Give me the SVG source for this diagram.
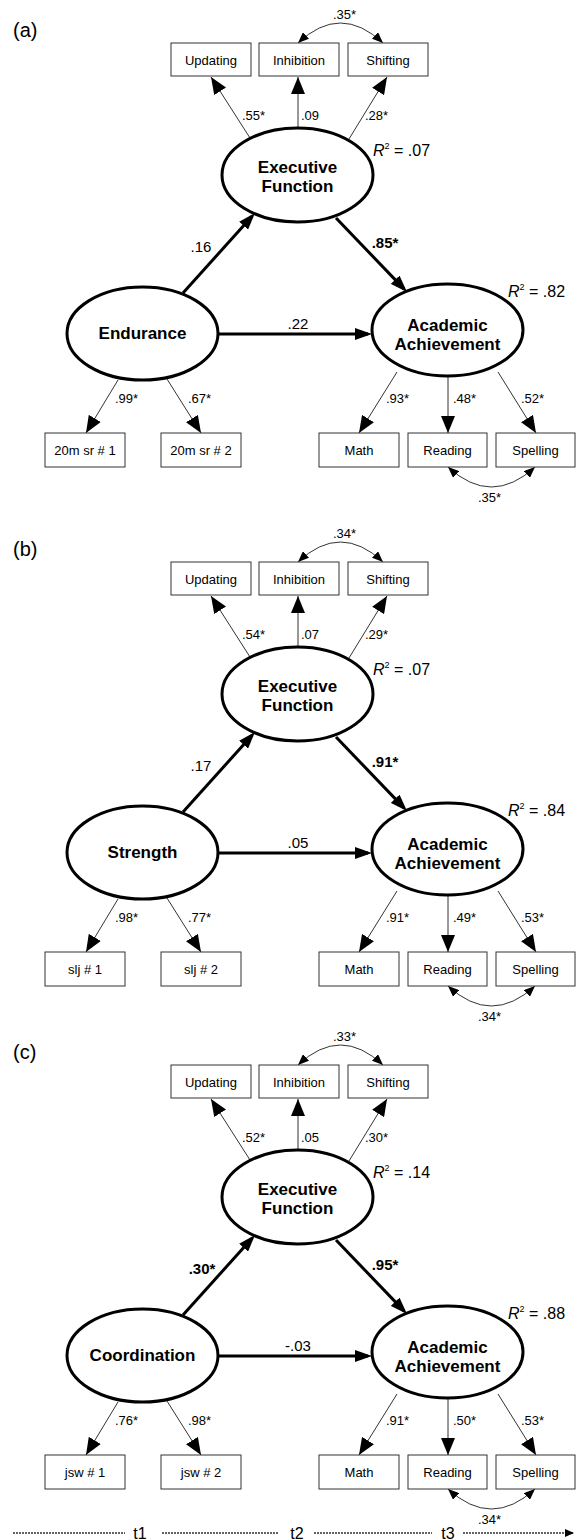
<svg xmlns="http://www.w3.org/2000/svg" width="576" height="1540" viewBox="0 0 576 1540">
<defs>
<style>
text{font-family:"Liberation Sans",Arial,sans-serif;fill:#000}
.box{fill:#fff;stroke:#333;stroke-width:1}
.lat{fill:#fff;stroke:#000;stroke-width:3}
.thick{stroke:#000;stroke-width:3;fill:none}
.thin{stroke:#333;stroke-width:1;fill:none}
.cov{stroke:#333;stroke-width:1;fill:none}
.bt{font-size:13px;text-anchor:middle}
.lt{font-size:17px;font-weight:bold;text-anchor:middle}
.ml{font-size:13px}
.sl{font-size:15px;text-anchor:middle}
.slb{font-size:15px;font-weight:bold;text-anchor:middle}
.r2{font-size:16px}
.pl{font-size:20px}
.tl{stroke:#333;stroke-width:1.4;stroke-dasharray:2 1;fill:none}
.tt{font-size:16px;text-anchor:middle}
</style>
<marker id="ah" markerUnits="userSpaceOnUse" viewBox="0 0 17 14" markerWidth="17" markerHeight="14" refX="17" refY="7" orient="auto"><path d="M0,0L17,7L0,14z" fill="#000"/></marker>
<marker id="aht" markerUnits="userSpaceOnUse" viewBox="0 0 17 12" markerWidth="17" markerHeight="12" refX="13" refY="6" orient="auto"><path d="M0,0L17,6L0,12z" fill="#000"/></marker>
<marker id="ahc" markerUnits="userSpaceOnUse" viewBox="0 0 11 9" markerWidth="11" markerHeight="9" refX="11" refY="4.5" orient="auto-start-reverse"><path d="M0,0L11,4.5L0,9z" fill="#000"/></marker>
<marker id="ahl" markerUnits="userSpaceOnUse" viewBox="0 0 9 8" markerWidth="9" markerHeight="8" refX="9" refY="4" orient="auto"><path d="M0,0L9,4L0,8z" fill="#000"/></marker>
</defs>
<rect width="576" height="1540" fill="#fff"/>

<!-- Panel (a) -->
<g id="panel-a">
<text class="pl" x="13" y="37">(a)</text>
<g id="a-connectors">
<path class="cov" d="M298,43 Q340.5,3 383,43" marker-start="url(#ahc)" marker-end="url(#ahc)"/>
<line class="thin" x1="250" y1="138" x2="211" y2="77" marker-end="url(#ah)"/>
<line class="thin" x1="298" y1="128" x2="298" y2="77" marker-end="url(#ah)"/>
<line class="thin" x1="349" y1="139" x2="387" y2="77" marker-end="url(#ah)"/>
<line class="thick" x1="183" y1="293" x2="252.3" y2="216" marker-end="url(#aht)"/>
<line class="thick" x1="336" y1="218" x2="404.2" y2="289.1" marker-end="url(#aht)"/>
<line class="thick" x1="218" y1="334" x2="368" y2="334" marker-end="url(#aht)"/>
<line class="thin" x1="118" y1="380" x2="86" y2="433" marker-end="url(#ah)"/>
<line class="thin" x1="167" y1="379" x2="201" y2="433" marker-end="url(#ah)"/>
<line class="thin" x1="397" y1="372" x2="359" y2="433" marker-end="url(#ah)"/>
<line class="thin" x1="448" y1="376" x2="448" y2="433" marker-end="url(#ah)"/>
<line class="thin" x1="498" y1="372" x2="536" y2="433" marker-end="url(#ah)"/>
<path class="cov" d="M448,467 Q491.5,507 535,467" marker-start="url(#ahc)" marker-end="url(#ahc)"/>
<text class="ml" x="333" y="19">.35*</text>
<text class="ml" x="242" y="120">.55*</text>
<text class="ml" x="301" y="120">.09</text>
<text class="ml" x="365" y="120">.28*</text>
<text class="sl" x="201" y="252">.16</text>
<text class="slb" x="385" y="248">.85*</text>
<text class="sl" x="298" y="329">.22</text>
<text class="ml" x="115" y="403">.99*</text>
<text class="ml" x="188" y="403">.67*</text>
<text class="ml" x="386" y="403">.93*</text>
<text class="ml" x="453" y="403">.48*</text>
<text class="ml" x="521" y="403">.52*</text>
<text class="ml" x="478" y="502">.35*</text>
</g>
<g id="a-updating"><rect class="box" x="171" y="43" width="80" height="33"/><text class="bt" x="211" y="65">Updating</text></g>
<g id="a-inhibition"><rect class="box" x="259" y="43" width="80" height="33"/><text class="bt" x="299" y="65">Inhibition</text></g>
<g id="a-shifting"><rect class="box" x="348" y="43" width="80" height="33"/><text class="bt" x="388" y="65">Shifting</text></g>
<g id="a-ef"><ellipse class="lat" cx="297.5" cy="175" rx="75.5" ry="47"/><text class="lt" x="297.5" y="173">Executive</text><text class="lt" x="297.5" y="192">Function</text>
<text class="r2" x="373" y="156"><tspan font-style="italic">R</tspan><tspan font-size="9" dy="-7">2</tspan><tspan dy="7"> = .07</tspan></text></g>
<g id="a-endurance"><ellipse class="lat" cx="142.5" cy="333.5" rx="75.5" ry="46.5"/><text class="lt" x="142.5" y="339">Endurance</text></g>
<g id="a-aa"><ellipse class="lat" cx="447.5" cy="330" rx="75.5" ry="46"/><text class="lt" x="447.5" y="331">Academic</text><text class="lt" x="447.5" y="350">Achievement</text>
<text class="r2" x="508" y="297"><tspan font-style="italic">R</tspan><tspan font-size="9" dy="-7">2</tspan><tspan dy="7"> = .82</tspan></text></g>
<g id="a-sr1"><rect class="box" x="45" y="433" width="80" height="34"/><text class="bt" x="85" y="455">20m sr # 1</text></g>
<g id="a-sr2"><rect class="box" x="161" y="433" width="80" height="34"/><text class="bt" x="201" y="455">20m sr # 2</text></g>
<g id="a-math"><rect class="box" x="319" y="433" width="80" height="34"/><text class="bt" x="359" y="455">Math</text></g>
<g id="a-reading"><rect class="box" x="408" y="433" width="79" height="34"/><text class="bt" x="447.5" y="455">Reading</text></g>
<g id="a-spelling"><rect class="box" x="496" y="433" width="79" height="34"/><text class="bt" x="535.5" y="455">Spelling</text></g>
</g>

<!-- Panel (b) -->
<g id="panel-b" transform="translate(0,519)">
<text class="pl" x="13" y="37">(b)</text>
<g id="b-connectors">
<path class="cov" d="M298,43 Q340.5,3 383,43" marker-start="url(#ahc)" marker-end="url(#ahc)"/>
<line class="thin" x1="250" y1="138" x2="211" y2="77" marker-end="url(#ah)"/>
<line class="thin" x1="298" y1="128" x2="298" y2="77" marker-end="url(#ah)"/>
<line class="thin" x1="349" y1="139" x2="387" y2="77" marker-end="url(#ah)"/>
<line class="thick" x1="183" y1="293" x2="252.3" y2="216" marker-end="url(#aht)"/>
<line class="thick" x1="336" y1="218" x2="404.2" y2="289.1" marker-end="url(#aht)"/>
<line class="thick" x1="218" y1="334" x2="368" y2="334" marker-end="url(#aht)"/>
<line class="thin" x1="118" y1="380" x2="86" y2="433" marker-end="url(#ah)"/>
<line class="thin" x1="167" y1="379" x2="201" y2="433" marker-end="url(#ah)"/>
<line class="thin" x1="397" y1="372" x2="359" y2="433" marker-end="url(#ah)"/>
<line class="thin" x1="448" y1="376" x2="448" y2="433" marker-end="url(#ah)"/>
<line class="thin" x1="498" y1="372" x2="536" y2="433" marker-end="url(#ah)"/>
<path class="cov" d="M448,467 Q491.5,507 535,467" marker-start="url(#ahc)" marker-end="url(#ahc)"/>
<text class="ml" x="333" y="19">.34*</text>
<text class="ml" x="242" y="120">.54*</text>
<text class="ml" x="301" y="120">.07</text>
<text class="ml" x="365" y="120">.29*</text>
<text class="sl" x="201" y="252">.17</text>
<text class="slb" x="385" y="248">.91*</text>
<text class="sl" x="298" y="329">.05</text>
<text class="ml" x="115" y="403">.98*</text>
<text class="ml" x="188" y="403">.77*</text>
<text class="ml" x="386" y="403">.91*</text>
<text class="ml" x="453" y="403">.49*</text>
<text class="ml" x="521" y="403">.53*</text>
<text class="ml" x="478" y="502">.34*</text>
</g>
<g id="b-updating"><rect class="box" x="171" y="43" width="80" height="33"/><text class="bt" x="211" y="65">Updating</text></g>
<g id="b-inhibition"><rect class="box" x="259" y="43" width="80" height="33"/><text class="bt" x="299" y="65">Inhibition</text></g>
<g id="b-shifting"><rect class="box" x="348" y="43" width="80" height="33"/><text class="bt" x="388" y="65">Shifting</text></g>
<g id="b-ef"><ellipse class="lat" cx="297.5" cy="175" rx="75.5" ry="47"/><text class="lt" x="297.5" y="173">Executive</text><text class="lt" x="297.5" y="192">Function</text>
<text class="r2" x="373" y="156"><tspan font-style="italic">R</tspan><tspan font-size="9" dy="-7">2</tspan><tspan dy="7"> = .07</tspan></text></g>
<g id="b-strength"><ellipse class="lat" cx="142.5" cy="333.5" rx="75.5" ry="46.5"/><text class="lt" x="142.5" y="339">Strength</text></g>
<g id="b-aa"><ellipse class="lat" cx="447.5" cy="330" rx="75.5" ry="46"/><text class="lt" x="447.5" y="331">Academic</text><text class="lt" x="447.5" y="350">Achievement</text>
<text class="r2" x="508" y="297"><tspan font-style="italic">R</tspan><tspan font-size="9" dy="-7">2</tspan><tspan dy="7"> = .84</tspan></text></g>
<g id="b-slj1"><rect class="box" x="45" y="433" width="80" height="34"/><text class="bt" x="85" y="455">slj # 1</text></g>
<g id="b-slj2"><rect class="box" x="161" y="433" width="80" height="34"/><text class="bt" x="201" y="455">slj # 2</text></g>
<g id="b-math"><rect class="box" x="319" y="433" width="80" height="34"/><text class="bt" x="359" y="455">Math</text></g>
<g id="b-reading"><rect class="box" x="408" y="433" width="79" height="34"/><text class="bt" x="447.5" y="455">Reading</text></g>
<g id="b-spelling"><rect class="box" x="496" y="433" width="79" height="34"/><text class="bt" x="535.5" y="455">Spelling</text></g>
</g>

<!-- Panel (c) -->
<g id="panel-c" transform="translate(0,1022)">
<text class="pl" x="13" y="37">(c)</text>
<g id="c-connectors">
<path class="cov" d="M298,43 Q340.5,3 383,43" marker-start="url(#ahc)" marker-end="url(#ahc)"/>
<line class="thin" x1="250" y1="138" x2="211" y2="77" marker-end="url(#ah)"/>
<line class="thin" x1="298" y1="128" x2="298" y2="77" marker-end="url(#ah)"/>
<line class="thin" x1="349" y1="139" x2="387" y2="77" marker-end="url(#ah)"/>
<line class="thick" x1="183" y1="293" x2="252.3" y2="216" marker-end="url(#aht)"/>
<line class="thick" x1="336" y1="218" x2="404.2" y2="289.1" marker-end="url(#aht)"/>
<line class="thick" x1="218" y1="334" x2="368" y2="334" marker-end="url(#aht)"/>
<line class="thin" x1="118" y1="380" x2="86" y2="433" marker-end="url(#ah)"/>
<line class="thin" x1="167" y1="379" x2="201" y2="433" marker-end="url(#ah)"/>
<line class="thin" x1="397" y1="372" x2="359" y2="433" marker-end="url(#ah)"/>
<line class="thin" x1="448" y1="376" x2="448" y2="433" marker-end="url(#ah)"/>
<line class="thin" x1="498" y1="372" x2="536" y2="433" marker-end="url(#ah)"/>
<path class="cov" d="M448,467 Q491.5,507 535,467" marker-start="url(#ahc)" marker-end="url(#ahc)"/>
<text class="ml" x="333" y="19">.33*</text>
<text class="ml" x="242" y="120">.52*</text>
<text class="ml" x="301" y="120">.05</text>
<text class="ml" x="365" y="120">.30*</text>
<text class="slb" x="202" y="252">.30*</text>
<text class="slb" x="385" y="248">.95*</text>
<text class="sl" x="298" y="329">-.03</text>
<text class="ml" x="115" y="403">.76*</text>
<text class="ml" x="188" y="403">.98*</text>
<text class="ml" x="386" y="403">.91*</text>
<text class="ml" x="453" y="403">.50*</text>
<text class="ml" x="521" y="403">.53*</text>
<text class="ml" x="478" y="502">.34*</text>
</g>
<g id="c-updating"><rect class="box" x="171" y="43" width="80" height="33"/><text class="bt" x="211" y="65">Updating</text></g>
<g id="c-inhibition"><rect class="box" x="259" y="43" width="80" height="33"/><text class="bt" x="299" y="65">Inhibition</text></g>
<g id="c-shifting"><rect class="box" x="348" y="43" width="80" height="33"/><text class="bt" x="388" y="65">Shifting</text></g>
<g id="c-ef"><ellipse class="lat" cx="297.5" cy="175" rx="75.5" ry="47"/><text class="lt" x="297.5" y="173">Executive</text><text class="lt" x="297.5" y="192">Function</text>
<text class="r2" x="373" y="156"><tspan font-style="italic">R</tspan><tspan font-size="9" dy="-7">2</tspan><tspan dy="7"> = .14</tspan></text></g>
<g id="c-coordination"><ellipse class="lat" cx="142.5" cy="333.5" rx="75.5" ry="46.5"/><text class="lt" x="142.5" y="339">Coordination</text></g>
<g id="c-aa"><ellipse class="lat" cx="447.5" cy="330" rx="75.5" ry="46"/><text class="lt" x="447.5" y="331">Academic</text><text class="lt" x="447.5" y="350">Achievement</text>
<text class="r2" x="508" y="297"><tspan font-style="italic">R</tspan><tspan font-size="9" dy="-7">2</tspan><tspan dy="7"> = .88</tspan></text></g>
<g id="c-jsw1"><rect class="box" x="45" y="433" width="80" height="34"/><text class="bt" x="85" y="455">jsw # 1</text></g>
<g id="c-jsw2"><rect class="box" x="161" y="433" width="80" height="34"/><text class="bt" x="201" y="455">jsw # 2</text></g>
<g id="c-math"><rect class="box" x="319" y="433" width="80" height="34"/><text class="bt" x="359" y="455">Math</text></g>
<g id="c-reading"><rect class="box" x="408" y="433" width="79" height="34"/><text class="bt" x="447.5" y="455">Reading</text></g>
<g id="c-spelling"><rect class="box" x="496" y="433" width="79" height="34"/><text class="bt" x="535.5" y="455">Spelling</text></g>
</g>

<!-- Timeline -->
<g id="timeline">
<line class="tl" x1="13" y1="1533" x2="125" y2="1533"/>
<line class="tl" x1="162" y1="1533" x2="279" y2="1533"/>
<line class="tl" x1="314" y1="1533" x2="432" y2="1533"/>
<line class="tl" x1="463" y1="1533" x2="574" y2="1533" marker-end="url(#ahl)"/>
<text class="tt" x="140" y="1539">t1</text>
<text class="tt" x="297" y="1539">t2</text>
<text class="tt" x="448" y="1539">t3</text>
</g>
</svg>
